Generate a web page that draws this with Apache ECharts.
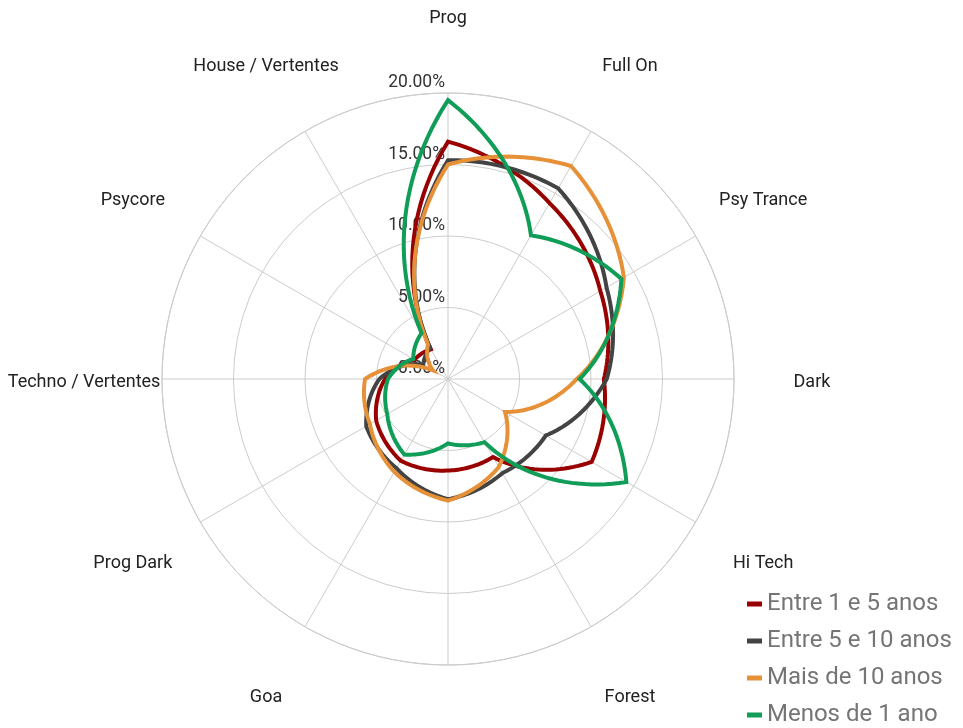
<!DOCTYPE html>
<html>
<head>
<meta charset="utf-8">
<script src="https://cdn.jsdelivr.net/npm/echarts@6/dist/echarts.min.js"></script>
<style>
  html, body { margin: 0; padding: 0; background: #ffffff; }
  #chart { width: 963px; height: 728px; }
</style>
</head>
<body>
<div id="chart"></div>
<script>
// Genres, clockwise from the top (the bottom slot has no name)
const categories = ['Prog', 'Full On', 'Psy Trance', 'Dark', 'Hi Tech', 'Forest', '',
  'Goa', 'Prog Dark', 'Techno / Vertentes', 'Psycore', 'House / Vertentes'];

const seriesNames = ['Entre 1 e 5 anos', 'Entre 5 e 10 anos', 'Mais de 10 anos', 'Menos de 1 ano'];

// Share of listeners (%) per genre
const entre1e5 = [16.6, 14.2, 12.3, 10.9, 11.6, 6.3, 6.4, 6.6, 5.8, 4.4, 2.7, 2.4];
const entre5e10 = [15.3, 15.4, 12.8, 11.1, 7.9, 7.6, 8.4, 7.2, 6.6, 4.8, 2.0, 2.5];
const maisDe10 = [15.0, 17.2, 14.2, 9.0, 4.6, 7.1, 8.5, 7.5, 6.3, 5.8, 1.2, 2.8];
const menosDe1 = [19.5, 11.6, 14.0, 9.2, 14.4, 5.1, 4.5, 6.1, 4.9, 4.2, 2.8, 3.7];

const radiusTicks = [0, 5, 10, 15, 20];

const colors = ['#990000', '#434343', '#e69138', '#0f9d58'];
const seriesValues = [entre1e5, entre5e10, maisDe10, menosDe1];

const FONT = 'Roboto, "Noto Sans", sans-serif';
const STEP = 360 / categories.length;
const LABEL_R = 25.45;      // radius (in axis units) of the genre name ring
const SUBSTEPS = 24;        // path resolution along each angular sector

// Closed outline where radius changes linearly with angle between neighbouring genres
function renderOutline(params, api) {
  if (params.dataIndexInside !== 0) return null;
  const n = params.dataInsideLength;
  const points = [];
  for (let j = 0; j < n; j++) {
    const k = (j + 1) % n;
    const r0 = api.value(0, j), a0 = api.value(1, j);
    const r1 = api.value(0, k);
    const a1 = k === 0 ? 360 : api.value(1, k);
    for (let s = 0; s < SUBSTEPS; s++) {
      const t = s / SUBSTEPS;
      const p = api.coord([r0 + (r1 - r0) * t, a0 + (a1 - a0) * t]);
      points.push([p[0], p[1]]);
    }
  }
  return {
    type: 'polygon',
    shape: { points: points },
    style: {
      fill: 'none',
      stroke: api.visual('color'),
      lineWidth: 4,
      lineJoin: 'miter'
    }
  };
}

function renderName(params, api) {
  const p = api.coord([api.value(0), api.value(1)]);
  return {
    type: 'text',
    x: p[0],
    y: p[1] + 3,
    style: {
      text: categories[params.dataIndex],
      fill: '#222222',
      font: '18px ' + FONT,
      align: 'center',
      verticalAlign: 'middle'
    }
  };
}

const chart = echarts.init(document.getElementById('chart'), null, { renderer: 'canvas' });

const series = seriesValues.map((vals, si) => ({
  name: seriesNames[si],
  type: 'custom',
  coordinateSystem: 'polar',
  renderItem: renderOutline,
  itemStyle: { color: colors[si] },
  encode: { radius: 0, angle: 1 },
  silent: true,
  z: 3 + si,
  data: vals.map((v, i) => [v, i * STEP])
}));

series.push({
  name: 'genres',
  type: 'custom',
  coordinateSystem: 'polar',
  renderItem: renderName,
  encode: { radius: 0, angle: 1 },
  silent: true,
  z: 2,
  data: categories.map((c, i) => [LABEL_R, i * STEP])
});

chart.setOption({
  animation: false,
  backgroundColor: '#ffffff',
  textStyle: { fontFamily: FONT },
  polar: {
    center: [448, 379],
    radius: 286
  },
  angleAxis: {
    type: 'value',
    min: 0,
    max: 360,
    interval: STEP,
    startAngle: 90,
    clockwise: true,
    axisLine: { show: true, lineStyle: { color: '#cccccc', width: 1 } },
    axisTick: { show: false },
    axisLabel: { show: false },
    splitLine: { show: true, lineStyle: { color: '#cccccc', width: 1 } }
  },
  radiusAxis: {
    type: 'value',
    min: radiusTicks[0],
    max: radiusTicks[radiusTicks.length - 1],
    interval: radiusTicks[1] - radiusTicks[0],
    axisLine: { show: false },
    axisTick: { show: false },
    splitLine: { show: true, lineStyle: { color: '#cccccc', width: 1 } },
    axisLabel: {
      show: true,
      margin: 3,
      align: 'right',
      verticalAlign: 'bottom',
      padding: [0, 0, 1, 0],
      color: '#333333',
      fontSize: 17.5,
      fontFamily: FONT,
      formatter: v => v.toFixed(2) + '%'
    },
    z: 1
  },
  legend: {
    type: 'plain',
    data: seriesNames,
    orient: 'vertical',
    left: 742,
    top: 587,
    height: 400,
    itemWidth: 15,
    itemHeight: 5,
    itemGap: 13,
    icon: 'rect',
    textStyle: { color: '#757575', fontSize: 24, fontFamily: FONT, padding: [0, 0, 0, 0] }
  },
  series: series
});
</script>
</body>
</html>
